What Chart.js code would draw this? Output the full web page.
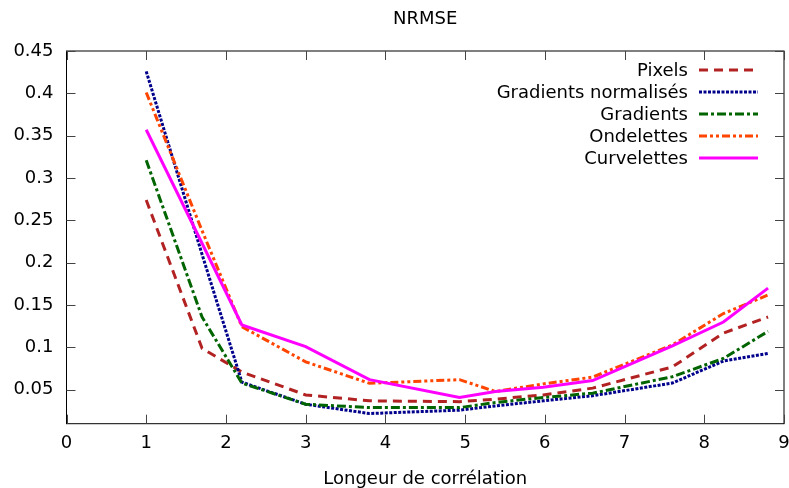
<!DOCTYPE html>
<html lang="fr">
<head>
<meta charset="UTF-8">
<title>NRMSE</title>
<style>
  html, body { margin: 0; padding: 0; background: #fff; }
  .chartBox { width: 789px; height: 488px; }
</style>
</head>
<body>
<div class="chartBox"><canvas id="myChart"></canvas></div>

<script src="https://cdn.jsdelivr.net/npm/chart.js"></script>
<script>
// data
const xValues     = [1, 1.7, 2.2, 3, 3.8, 4.93, 5.38, 5.98, 6.6, 7.6, 8.24, 8.8];
const pixels      = [0.274, 0.099, 0.071, 0.044, 0.037, 0.036, 0.039, 0.044, 0.052, 0.077, 0.117, 0.136];
const gradNorm    = [0.426, 0.210, 0.059, 0.033, 0.022, 0.026, 0.031, 0.037, 0.043, 0.058, 0.084, 0.093];
const gradients   = [0.321, 0.136, 0.058, 0.033, 0.029, 0.029, 0.035, 0.041, 0.046, 0.0655, 0.087, 0.119];
const ondelettes  = [0.401, 0.238, 0.1245, 0.083, 0.0577, 0.062, 0.048, 0.057, 0.065, 0.103, 0.140, 0.162];
const curvelettes = [0.357, 0.223, 0.1265, 0.101, 0.062, 0.041, 0.048, 0.053, 0.061, 0.102, 0.130, 0.170];

const seriesNames = ['Pixels', 'Gradients normalisés', 'Gradients', 'Ondelettes', 'Curvelettes'];
const xTicks = [0, 1, 2, 3, 4, 5, 6, 7, 8, 9];
const yTicks = [0.05, 0.1, 0.15, 0.2, 0.25, 0.3, 0.35, 0.4, 0.45];

const FONT = "'DejaVu Sans', sans-serif";

function pts(ys) {
  return ys.map((y, i) => ({ x: xValues[i], y: y }));
}

const styles = [
  { color: 'rgb(178,34,34)', dash: [9, 6] },
  { color: 'rgb(0,0,140)',   dash: [3, 1.5] },
  { color: 'rgb(0,100,0)',   dash: [9, 3, 3, 3] },
  { color: 'rgb(255,69,0)',  dash: [8, 3, 3, 3, 3, 3] },
  { color: 'rgb(255,0,255)', dash: [] }
];
const allSeries = [pixels, gradNorm, gradients, ondelettes, curvelettes];

const datasets = allSeries.map((ys, i) => ({
  label: seriesNames[i],
  data: pts(ys),
  borderColor: styles[i].color,
  backgroundColor: styles[i].color,
  borderDash: styles[i].dash,
  borderWidth: 3,
  pointRadius: 0,
  tension: 0,
  fill: false,
  order: 5 - i
}));

// frame + inward ticks like gnuplot
const frameTicks = {
  id: 'frameTicks',
  beforeDatasetsDraw(chart) {
    const { ctx, chartArea: a, scales } = chart;
    ctx.save();
    ctx.strokeStyle = '#000';
    ctx.lineWidth = 1;
    ctx.strokeRect(a.left, a.top, a.right - a.left, a.bottom - a.top);
    ctx.strokeStyle = '#444';
    ctx.beginPath();
    for (const v of xTicks) {
      const px = Math.round(scales.x.getPixelForValue(v)) + 0.5;
      ctx.moveTo(px, a.bottom); ctx.lineTo(px, a.bottom - 9);
      ctx.moveTo(px, a.top); ctx.lineTo(px, a.top + 9);
    }
    for (const v of yTicks) {
      const py = Math.round(scales.y.getPixelForValue(v)) + 0.5;
      ctx.moveTo(a.left, py); ctx.lineTo(a.left + 9, py);
      ctx.moveTo(a.right, py); ctx.lineTo(a.right - 9, py);
    }
    ctx.stroke();
    ctx.restore();
  }
};

// legend in the top right corner, text on the left of the sample
const keyLegend = {
  id: 'keyLegend',
  afterDatasetsDraw(chart) {
    const { ctx, chartArea: a } = chart;
    ctx.save();
    ctx.font = '18px ' + FONT;
    ctx.textAlign = 'right';
    ctx.textBaseline = 'middle';
    chart.data.datasets.forEach((ds, i) => {
      const y = a.top + 19 + i * 22;
      ctx.fillStyle = '#000';
      ctx.fillText(ds.label, a.right - 96, y + 1);
      ctx.strokeStyle = ds.borderColor;
      ctx.lineWidth = ds.borderWidth;
      ctx.setLineDash(ds.borderDash);
      ctx.beginPath();
      ctx.moveTo(a.right - 85, y);
      ctx.lineTo(a.right - 26, y);
      ctx.stroke();
    });
    ctx.restore();
  }
};

const config = {
  type: 'line',
  data: { datasets },
  options: {
    responsive: true,
    maintainAspectRatio: false,
    animation: false,
    layout: { padding: { left: 0, right: 5, top: 0, bottom: 0 } },
    plugins: {
      legend: { display: false },
      tooltip: { enabled: false },
      title: {
        display: true,
        text: 'NRMSE',
        fullSize: false,
        color: '#000',
        font: { family: FONT, size: 18, weight: 'normal' },
        padding: { top: 9, bottom: 20.4 }
      }
    },
    scales: {
      x: {
        type: 'linear',
        min: 0,
        max: 9,
        afterBuildTicks: s => { s.ticks = xTicks.map(v => ({ value: v })); },
        afterFit: s => { s.height = 64.3; s.paddingLeft = 0; s.paddingRight = 0; },
        ticks: {
          color: '#000',
          padding: 8.5,
          maxRotation: 0,
          font: { family: FONT, size: 18 },
          callback: v => String(v)
        },
        grid: { drawOnChartArea: false, drawTicks: false },
        border: { display: false },
        title: {
          display: true,
          text: 'Longeur de corrélation',
          color: '#000',
          font: { family: FONT, size: 18 },
          padding: { top: 0, bottom: -2 }
        }
      },
      y: {
        type: 'linear',
        min: 0.01,
        max: 0.45,
        afterBuildTicks: s => { s.ticks = yTicks.map(v => ({ value: v })); },
        afterFit: s => { s.width = 66.5; s.paddingTop = 0; s.paddingBottom = 0; },
        ticks: {
          color: '#000',
          padding: 13,
          font: { family: FONT, size: 18 },
          callback: v => String(+v.toFixed(2))
        },
        grid: { drawOnChartArea: false, drawTicks: false },
        border: { display: false }
      }
    }
  },
  plugins: [frameTicks, keyLegend]
};

const myChart = new Chart(document.getElementById('myChart'), config);
</script>
</body>
</html>
